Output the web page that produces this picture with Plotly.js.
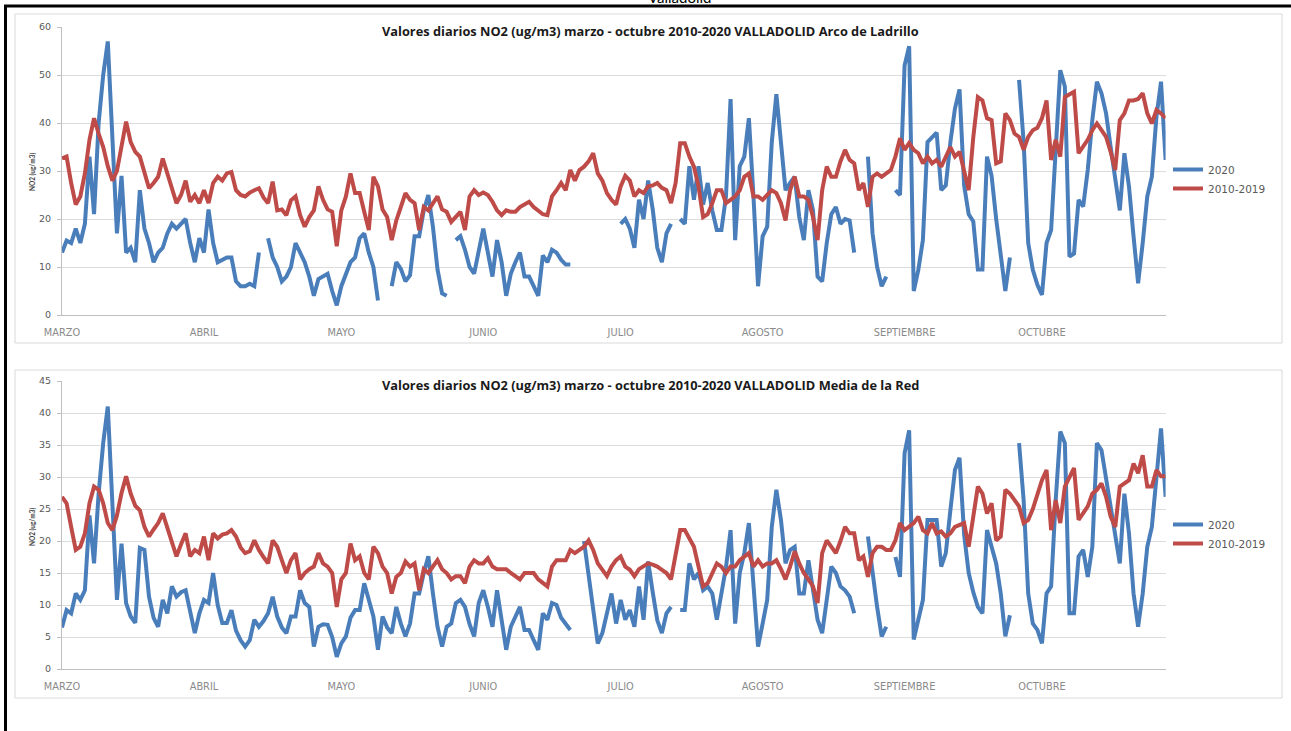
<!DOCTYPE html>
<html>
<head>
<meta charset="utf-8">
<script src="https://cdn.plot.ly/plotly-3.0.1.min.js"></script>
<style>html,body{margin:0;padding:0;background:#fff;}#chart{width:1291px;height:731px;}</style>
</head>
<body>
<div id="chart"></div>
<script>
const months = ['MARZO','ABRIL','MAYO','JUNIO','JULIO','AGOSTO','SEPTIEMBRE','OCTUBRE'];
const monthStart = [0,31,61,92,122,153,184,214];
const seriesNames = ['2020','2010-2019'];
const titleArco = 'Valores diarios NO2 (ug/m3) marzo - octubre 2010-2020 VALLADOLID Arco de Ladrillo';
const titleRed = 'Valores diarios NO2 (ug/m3) marzo - octubre 2010-2020 VALLADOLID Media de la Red';
const yTicksArco = [0,10,20,30,40,50,60];
const yTicksRed = [0,5,10,15,20,25,30,35,40,45];

// Arco de Ladrillo, 2020 (1 Mar - 28 Oct)
const arco2020 = [
13,15.5,15,18,15,19,33,21,40,50,
57,36,17,29,13,14,11,26,18,15,
11,13,14,17,19,18,19,20,15,11,
16,13,22,15,11,11.5,12,12,7,6,
6,6.5,6,13,null,16,12,10,7,8,
10,15,13,11,8,4,7.5,8,8.6,5,
2,6,8.5,11,12,16,17,13,10,3,
null,null,6,11,9.6,7,8.3,16.4,16.4,21.8,
25,18.4,9.5,4.5,4,null,15.6,16.4,13.6,10,
8.6,13.6,18,13,8,15.6,11,4,8.6,11,
13,8,8,6,4,12.4,11,13.6,13,11.5,
10.5,10.5,null,null,null,null,null,null,null,null,
null,null,19,20,18,14,24,20,28,22,
14,11,17,19,null,20,19,31,24,31,
23,27.5,21.8,17.7,17.7,24.7,45,15.6,31,33,
41,24.7,6,16.4,18.4,36,46,36,26,27.5,
28.8,20.4,15.6,26,21.8,8,7,15,21,22.5,
19,20,19.7,13,null,null,33,17,10,6,
8,null,26,25,52,56,5,9.4,15.6,36,
37,38,26,27,36,43,47,27,21,19.5,
9.5,9.5,33,29,20,12,5,12,null,49,
36,15,9.4,6.3,4.2,15,17.7,34.4,51,47.6,
12.2,12.8,24,22.6,30.2,40.6,48.6,46.2,42,35,
28.8,21.8,33.7,26.8,16.4,6.6,15,24.7,28.8,41.3,
48.6,32.3
];

// Arco de Ladrillo, media 2010-2019
const arcoHist = [
32.6,33,27.5,23,24.7,29.5,36.5,41,37.8,35,
31,28,30,35,40.3,36,34,33,29.5,26.4,
27.5,28.8,32.6,29.5,26.8,23.3,25,28,23.6,25,
23.3,26,23.3,27.5,28.8,28,29.5,29.8,26,25,
24.7,25.5,26,26.4,24.5,23.3,27.8,21.8,22,20.8,
23.9,24.7,20.8,18.4,20.4,21.8,26.8,24,22,21.5,
14.3,21.8,24.7,29.5,25.4,25.4,21.5,17.7,28.8,26.8,
22,20.4,15.6,19.7,22.5,25.4,24,23.3,17.7,22.5,
21.8,23.3,24.7,22,21.5,19.4,20.4,21.5,17.7,24.7,
26,25,25.5,25,23.6,21.8,20.8,21.8,21.5,21.5,
22.5,23,23.6,22.5,21.8,21,20.8,24.7,26,27.5,
26,30.2,28,30.2,30.9,32,33.7,29.5,28,25.4,
24,23,26.8,29,28,24.7,26,25.4,26.8,27,
27.5,26.5,26,23.3,27.5,35.8,35.8,33,30.9,26.8,
20.4,21,23.3,26,26,23.3,24,24.7,26,28.8,
29.5,24.7,24.7,24,25,26,25.4,23.3,19.7,26,
28.8,24.7,24.7,24,20.4,15.6,26,30.9,28.8,28.8,
32,34.4,32.3,31.6,26,27.5,22.5,28.8,29.5,28.8,
29.5,30.2,33,36.8,34.4,35.8,34.4,33.7,31.6,33,
31.6,32.3,30.9,33,35,33,34,30,26,37,
45.4,44.7,41,40.6,31.6,32,42,40.6,37.8,37.1,
34.4,37.1,38.5,39,41,44.7,32.3,36.5,33,45.4,
46,46.5,33.7,35,36.5,38.5,39.9,38.5,37.1,34,
30.2,40.6,42,44.7,44.7,45,46.2,42,39.9,42.7,
42,41
];

// Media de la Red, 2020
const red2020 = [
6.5,9.2,8.7,11.8,10.8,12.3,24,16.5,27.4,35.3,
41,26,10.8,19.6,10.3,8.2,7.2,18.9,18.6,11.3,
8,6.6,10.8,8.7,12.9,11.3,12,12.3,8.7,5.6,
8.7,10.8,10.3,15,10,7.2,7.2,9.2,6,4.5,
3.5,4.5,7.7,6.6,7.5,8.7,11.3,8.2,6.5,5.6,
8.2,8.2,12.3,10.3,9.7,3.5,6.6,7,6.9,5,
1.9,4,5.1,8,9.2,9.2,13.4,11,8.2,3,
8.2,6.5,5.6,9.7,7.1,5.1,7.1,11.8,11.8,15,
17.6,11.8,6.6,3.5,6.6,7.1,10.3,10.8,9.7,7,
5.1,10.3,12.3,9.7,6.6,12.3,7.7,3,6.6,8,
9.7,6.1,6.1,4.5,3,8.7,7.7,10.3,10,8,
7.1,6.1,null,null,20,14.7,9.3,4,5.6,9,
11.8,7.1,10.8,7.7,9.2,6.6,12.9,7.7,16.8,12,
7.6,5.6,8.7,9.7,null,9.2,9.2,16.5,14,15,
12.3,12.9,11.8,7.7,11.8,15.9,21.7,7.1,15,18.1,
22.8,12.9,3.5,7.1,10.8,22.2,28,23.3,16.5,18.6,
19.1,11.8,11.8,17,11.8,7.7,5.6,11.3,16,15,
12.9,12.3,11.3,8.7,null,null,20.7,15,9.7,5.1,
6.6,null,17.5,14.4,33.7,37.3,4.6,7.6,10.8,23.3,
23.3,23.3,16,18.1,24.8,31.1,33,21,15,12,
9.7,8.7,21.7,19.1,16.5,11.8,5.1,8.4,null,35.3,
26.4,11.8,7.1,6.1,4,11.8,12.9,26.4,37.1,35.3,
8.7,8.7,17.6,18.6,14.4,19.1,35.3,34.2,30,25,
21.2,16.5,27.4,21.2,11.8,6.6,11.8,19.1,22.2,29.5,
37.6,26.9
];

// Media de la Red, media 2010-2019
const redHist = [
26.9,25.9,22.2,18.6,19.1,21.2,25.9,28.5,28,25.9,
22.8,21.7,24,27.5,30.1,27.4,25.5,24.8,22.2,20.7,
21.8,22.8,24.3,22.2,20.1,17.6,19.5,21.2,17.6,18.6,
18.1,20.7,17,21.2,20.4,21,21.2,21.7,20.7,19,
18.1,18.4,20.1,18.6,17.5,16.5,20.1,19.1,17,15,
17,18.1,14,15,15.6,16,18.1,16.5,16,15,
9.7,14,15,19.6,17,17.6,15,14,19.1,18.1,
16,15,11.8,14.4,15,16.8,16,16.5,12.3,15.6,
15,16,17,15.6,15,14,14.5,14.5,13.4,16,
17,16.5,16.5,17.3,16,15.6,15.6,15.6,15,14.5,
14,15,15,15,14,13.5,12.9,16,17,17,
17,18.6,18.1,18.6,19.1,20.1,18.6,16.5,15.5,14.5,
16,17,17.6,16,15.5,14.5,15.6,16,16.5,16.3,
16,15.5,15,14,17.6,21.7,21.7,20.5,19.1,16,
12.9,13.4,15,16.5,16,15,16,16,17,17.6,
18.1,16,17,16,16.5,16.5,17,15.6,14,16,
18.4,16.5,15,14,12.9,10.3,18.1,20.1,19.1,18.1,
20,22.2,21.2,21.2,17,17.6,14.4,18.1,19.1,19.1,
18.6,18.6,20.1,22.8,21.7,22.2,22.8,23.8,21.7,21.2,
22.8,21.2,21.5,20.7,21.2,22.2,22.5,22.8,19.1,23.8,
28.5,27.4,24.3,25.9,20.1,20.7,28,27.4,26.4,25.4,
22.8,23.3,25,27.4,29.5,31.1,21.7,26.4,22.8,28.5,
30,31.4,23.3,24.5,25.4,27.4,28,29,26.9,23.8,
22.2,28.5,29,29.5,32.1,30.6,33.4,28.5,28.5,31.1,
30.1,30.1
];

const N = arco2020.length;
[arcoHist, red2020, redHist].forEach(function(a){ if (a.length !== N) throw new Error('length mismatch ' + N + ' vs ' + a.length); });
const days = arco2020.map(function(_, i){ return i; });

const W = 1291, H = 731;
const px = function(v){ return v / W; };
const py = function(v){ return 1 - v / H; };

const BLUE = '#4A7EBB', RED = '#BE4B48';
const FONT = 'Lato, "Liberation Sans", Arial, sans-serif';
const WIDE = '"DejaVu Sans", Verdana, sans-serif';
const TFONT = '"Open Sans", Arial, sans-serif';

function trace(y, name, color, xa, ya, legend) {
  return {x: days, y: y, name: name, type: 'scatter', mode: 'lines',
    line: {color: color, width: 4}, connectgaps: false,
    xaxis: xa, yaxis: ya, legend: legend, hoverinfo: 'skip'};
}

const data = [
  trace(arco2020, seriesNames[0], BLUE, 'x', 'y', 'legend'),
  trace(arcoHist, seriesNames[1], RED, 'x', 'y', 'legend'),
  trace(red2020, seriesNames[0], BLUE, 'x2', 'y2', 'legend2'),
  trace(redHist, seriesNames[1], RED, 'x2', 'y2', 'legend2')
];

function xaxis(anchor) {
  return {domain: [px(62), px(1165.6)], range: [0, N - 1], anchor: anchor,
    tickmode: 'array', tickvals: monthStart, ticktext: months,
    showgrid: false, zeroline: false, showline: true, linecolor: '#bfbfbf', linewidth: 1,
    ticks: '', ticklabelstandoff: 8,
    tickfont: {family: WIDE, size: 9.8, color: '#8a8a8a'}, fixedrange: true};
}
function yaxis(anchor, dom, maxv, ticks) {
  return {domain: dom, range: [0, maxv], anchor: anchor, tickmode: 'array', tickvals: ticks,
    showgrid: true, gridcolor: '#dcdcdc', gridwidth: 1, zeroline: false,
    showline: true, linecolor: '#bfbfbf', linewidth: 1, ticks: 'outside', ticklen: 4, tickcolor: '#bfbfbf',
    ticklabelstandoff: 4,
    tickfont: {family: WIDE, size: 9.5, color: '#595959'}, fixedrange: true};
}

function legendCfg(cy) {
  return {x: px(1168), xanchor: 'left', y: py(cy), yanchor: 'middle',
    bgcolor: 'rgba(0,0,0,0)', borderwidth: 0,
    font: {family: WIDE, size: 10.5, color: '#595959'}, tracegroupgap: 0};
}

const layout = {
  width: W, height: H, margin: {l: 0, r: 0, t: 0, b: 0},
  paper_bgcolor: '#ffffff', plot_bgcolor: '#ffffff', showlegend: true,
  xaxis: xaxis('y'), yaxis: yaxis('x', [py(315), py(27)], 60, yTicksArco),
  xaxis2: xaxis('y2'), yaxis2: yaxis('x2', [py(669), py(381)], 45, yTicksRed),
  legend: legendCfg(179), legend2: legendCfg(534),
  shapes: [
    {type: 'rect', xref: 'paper', yref: 'paper', x0: px(15), x1: px(1282), y0: py(14), y1: py(343), line: {color: '#d9d9d9', width: 1}, layer: 'below'},
    {type: 'rect', xref: 'paper', yref: 'paper', x0: px(15), x1: px(1282), y0: py(370), y1: py(698), line: {color: '#d9d9d9', width: 1}, layer: 'below'},
    {type: 'line', xref: 'paper', yref: 'paper', x0: px(4), x1: 1, y0: py(6), y1: py(6), line: {color: '#000', width: 3}},
    {type: 'line', xref: 'paper', yref: 'paper', x0: px(5.5), x1: px(5.5), y0: py(5), y1: 0, line: {color: '#000', width: 3}}
  ],
  annotations: [
    {text: 'Valladolid', xref: 'paper', yref: 'paper', x: px(680), y: py(8), xanchor: 'center', yanchor: 'bottom', showarrow: false, font: {family: FONT, size: 15, color: '#000'}},
    {text: '<b>' + titleArco + '</b>', xref: 'paper', yref: 'paper', x: px(650), y: py(31), xanchor: 'center', yanchor: 'middle', showarrow: false, font: {family: TFONT, size: 12.8, color: '#1a1a1a'}},
    {text: '<b>' + titleRed + '</b>', xref: 'paper', yref: 'paper', x: px(650), y: py(385), xanchor: 'center', yanchor: 'middle', showarrow: false, font: {family: TFONT, size: 12.8, color: '#1a1a1a'}},
    {text: '<b>NO2 (ug/m3)</b>', xref: 'paper', yref: 'paper', x: px(32), y: py(172), xanchor: 'center', yanchor: 'middle', textangle: -90, showarrow: false, font: {family: FONT, size: 6.5, color: '#404040'}},
    {text: '<b>NO2 (ug/m3)</b>', xref: 'paper', yref: 'paper', x: px(32), y: py(527), xanchor: 'center', yanchor: 'middle', textangle: -90, showarrow: false, font: {family: FONT, size: 6.5, color: '#404040'}}
  ]
};

Plotly.newPlot('chart', data, layout, {displayModeBar: false, staticPlot: true});
</script>
</body>
</html>
